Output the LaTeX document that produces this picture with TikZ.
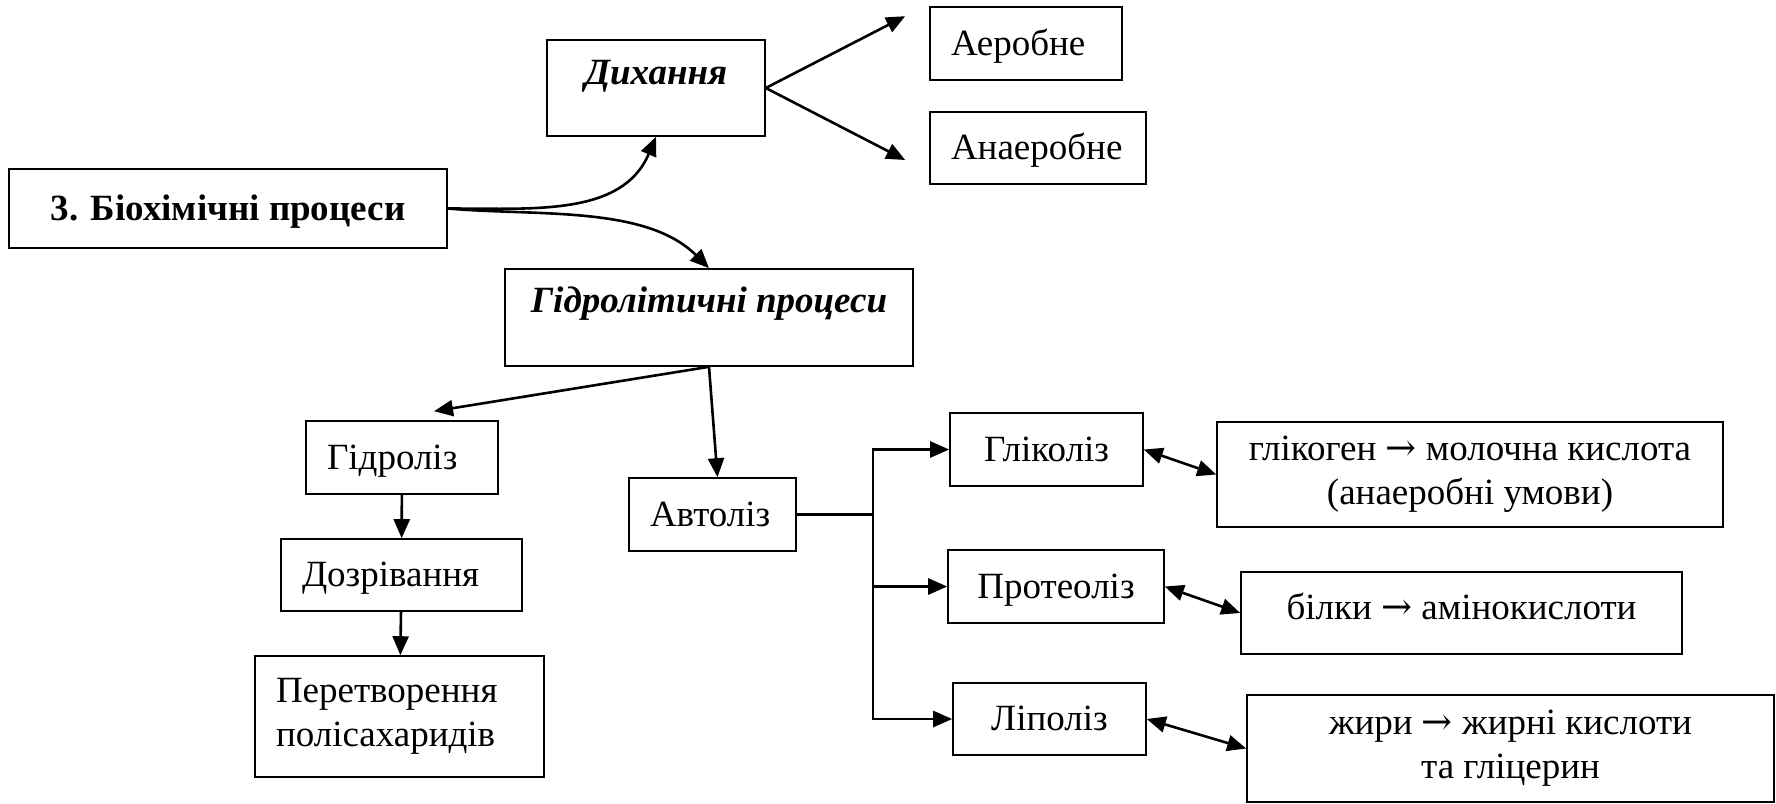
\documentclass[tikz,border=0pt]{standalone}
\usepackage{fontspec}
\setmainfont{Liberation Serif}
\newfontfamily\symbolfont{DejaVu Serif}
\usetikzlibrary{arrows.meta}

\newcommand{\diagfont}{\fontsize{37}{44}\selectfont}
\newcommand{\yields}{{\symbolfont →}}

\begin{document}
\begin{tikzpicture}[
    x=1pt, y=-1pt,
    font=\diagfont,
    box/.style={rectangle, draw, line width=1.6pt, inner sep=0pt, text height=30pt, text depth=7pt},
    leftbox/.style={box, align=left, inner xsep=21pt},
    tallbox/.style={rectangle, draw, line width=1.6pt, inner sep=0pt, align=center},
    link/.style={line width=2.6pt},
    arrow/.style={line width=2.6pt, -{Triangle[length=19pt,width=16pt]}},
    twoway/.style={line width=2.6pt, {Triangle[length=19pt,width=16pt]}-{Triangle[length=19pt,width=16pt]}}
]
    \useasboundingbox (0,0) rectangle (1776,803);

    % Main block
    \node [box, font=\diagfont\bfseries, minimum width=438pt, minimum height=79pt] (bio) at (228,208.5) {3. Біохімічні процеси};
    \node [box, font=\diagfont\bfseries\itshape, minimum width=218pt, minimum height=96pt, text depth=38pt] (resp) at (656,88) {Дихання};
    \node [box, font=\diagfont\bfseries\itshape, minimum width=408pt, minimum height=97pt, text depth=40pt] (hydro) at (709,317.5) {Гідролітичні процеси};

    % Respiration types
    \node [leftbox, text width=150pt, minimum width=192pt, minimum height=73pt] (aer) at (1026,43.5) {Аеробне};
    \node [leftbox, text width=174pt, minimum width=216pt, minimum height=72pt] (anaer) at (1038,148) {Анаеробне};

    % Hydrolysis chain
    \node [leftbox, text width=150pt, minimum width=192pt, minimum height=73pt] (hydrolysis) at (402,457.5) {Гідроліз};
    \node [leftbox, text width=199pt, minimum width=241pt, minimum height=72pt] (ripening) at (401.5,575) {Дозрівання};
    \node [tallbox, align=left, text width=247pt, inner xsep=21pt, minimum width=289pt, minimum height=121pt] (conversion) at (399.5,716.5) {Перетворення\\полісахаридів};

    % Autolysis branches
    \node [leftbox, text width=125pt, minimum width=167pt, minimum height=73pt] (autolysis) at (712.5,514.5) {Автоліз};
    \node [box, minimum width=193pt, minimum height=73pt] (glyco) at (1046.5,449.5) {Гліколіз};
    \node [box, minimum width=216pt, minimum height=73pt] (proteo) at (1056,586.5) {Протеоліз};
    \node [box, minimum width=193pt, minimum height=72pt] (lipo) at (1049.5,719) {Ліполіз};

    % Products
    \node [tallbox, minimum width=506pt, minimum height=105pt] (glycoprod) at (1470,474.5) {глікоген \yields{} молочна кислота\\(анаеробні умови)};
    \node [box, minimum width=441pt, minimum height=82pt, text depth=18pt] (proteoprod) at (1461.5,613) {білки \yields{} амінокислоти};
    \node [tallbox, minimum width=527pt, minimum height=107pt] (lipoprod) at (1510.5,748.5) {жири \yields{} жирні кислоти\\та гліцерин};

    % Arrows
    \draw [arrow] (bio.east) to[out=0, in=-113] (resp.south);
    \draw [arrow] (bio.east) to[out=-5, in=135, looseness=0.85] (hydro.north);
    \draw [arrow] (resp.east) -- ([xshift=-24pt, yshift=-10pt]aer.north west);
    \draw [arrow] (resp.east) -- ([xshift=-24pt, yshift=-12pt]anaer.west);
    \draw [arrow] (hydro.south) -- ([xshift=32pt, yshift=9pt]hydrolysis.north);
    \draw [arrow] (hydro.south) -- ([xshift=5pt]autolysis.north);
    \draw [arrow] (hydrolysis) -- (ripening);
    \draw [arrow] (ripening) -- (conversion);

    \coordinate (split) at (873,514.5);
    \draw [link] (autolysis.east) -- (split);
    \draw [arrow] (split) |- (glyco.west);
    \draw [arrow] (split) |- (proteo.west);
    \draw [arrow] (split) |- (lipo.west);

    \draw [twoway] (glyco.east) -- (glycoprod.west);
    \draw [twoway] (proteo.east) -- (proteoprod.west);
    \draw [twoway] (lipo.east) -- (lipoprod.west);
\end{tikzpicture}
\end{document}
